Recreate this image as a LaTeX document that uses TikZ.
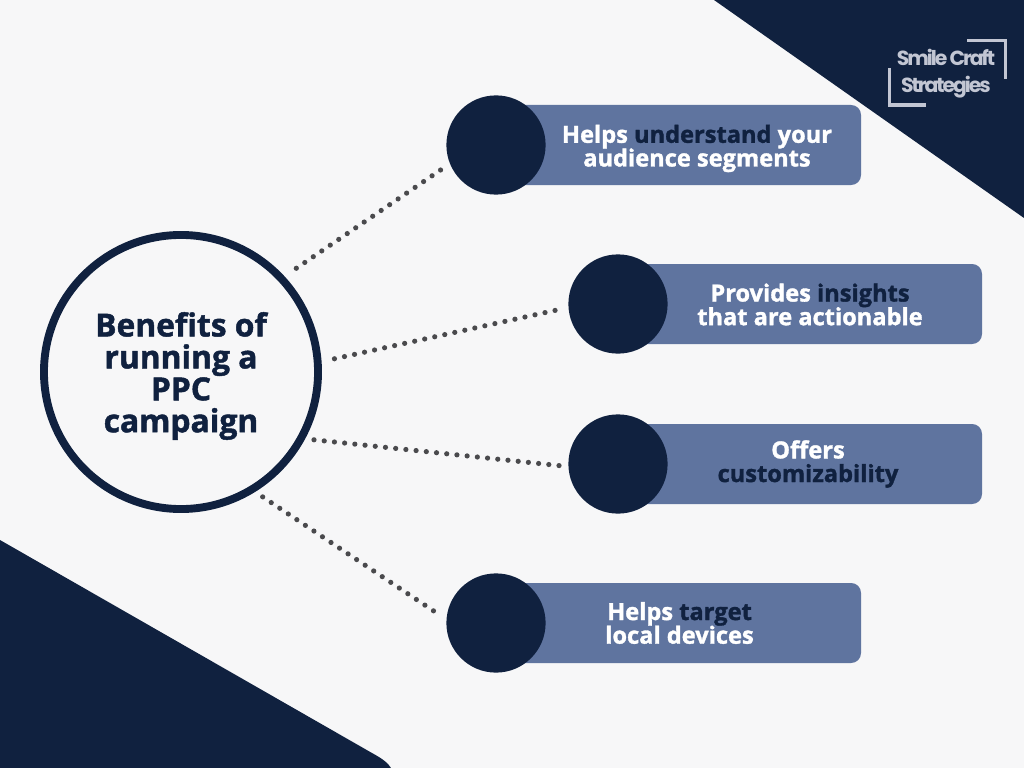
\documentclass[tikz,border=0pt]{standalone}
\usepackage{fontspec}
\usepackage{tikz}
\usetikzlibrary{positioning}
\setmainfont{Open Sans}[BoldFeatures={FakeBold=1.4}]
\newfontfamily\logofont{Poppins}[LetterSpace=-10]
\definecolor{navy}{HTML}{10213F}
\definecolor{barblue}{HTML}{5F749F}
\definecolor{paper}{HTML}{F7F7F8}
\definecolor{dotgray}{HTML}{4A4A4D}
\definecolor{logogray}{HTML}{C2C6D3}

\begin{document}
\begin{tikzpicture}[x=0.025cm, y=-0.025cm,
    hub/.style={circle, draw=navy, fill=paper, line width=5.6pt, minimum size=6.85cm, inner sep=0pt, outer sep=0pt},
    disc/.style={circle, fill=navy, minimum size=2.48cm, inner sep=0pt, outer sep=0pt},
    barfill/.style={fill=barblue, rounded corners=7pt},
    bartext/.style={align=center, text=white, font=\fontsize{16.8}{16.8}\selectfont\bfseries},
    hubtext/.style={align=center, text=navy, font=\fontsize{22.6}{22.7}\selectfont\bfseries},
    logotext/.style={text=logogray, font=\fontsize{14.5}{15}\logofont\bfseries},
    dotline/.style={draw=dotgray, line width=3.7pt, line cap=round, dash pattern=on 0pt off 7.3pt},
    bracket/.style={draw=logogray, line width=2.6pt}]
    \useasboundingbox (0,0) rectangle (1024,768);
    % background and corners
    \fill[paper] (0,0) rectangle (1024,768);
    \fill[navy] (714,0) -- (1024,218) -- (1024,0) -- cycle;
    \fill[navy] (0,540) -- (372,753) .. controls (383,759) and (388,763) .. (391,768) -- (0,768) -- cycle;
    % logo
    \draw[bracket] (967,40.5) -- (1005.5,40.5) -- (1005.5,79);
    \draw[bracket] (889.5,68) -- (889.5,105) -- (926,105);
    \node[logotext] (logoA) at (946,57) {Smile Craft};
    \node[logotext] (logoB) at (946,87) {Strategies};
    % bars
    \fill[barfill] (496,105) rectangle (861,185);
    \fill[barfill] (618,264) rectangle (982,344);
    \fill[barfill] (618,424) rectangle (982,504);
    \fill[barfill] (496,583) rectangle (861,663);
    % discs
    \node[disc] (discA) at (496,145) {};
    \node[disc] (discB) at (618,304) {};
    \node[disc] (discC) at (618,464) {};
    \node[disc] (discD) at (496,623) {};
    % labels
    \node[bartext] (textA) at (697,148.5) {Helps \textcolor{navy}{understand} your\\audience segments};
    \node[bartext] (textB) at (810,304.5) {Provides \textcolor{navy}{insights}\\that are actionable};
    \node[bartext] (textC) at (808,464) {Offers\\\textcolor{navy}{customizability}};
    \node[bartext] (textD) at (679.5,623) {Helps \textcolor{navy}{target}\\local devices};
    % main circle
    \node[hub] (main) at (181,372) {};
    \node[hubtext] (mainText) at (181,376) {Benefits of\\running a\\PPC\\campaign};
    % connectors
    \draw[dotline, shorten <=13pt, shorten >=6.5pt] (main.43.3) -- (discA.202);
    \draw[dotline, shorten <=12.2pt, shorten >=7.8pt] (main.4.1) -- (discB.184.7);
    \draw[dotline, shorten <=9.4pt, shorten >=4.6pt] (main.-29.5) -- (discC.183);
    \draw[dotline, shorten <=9.5pt, shorten >=8pt] (main.-59.5) -- (discD.176.5);
\end{tikzpicture}
\end{document}
